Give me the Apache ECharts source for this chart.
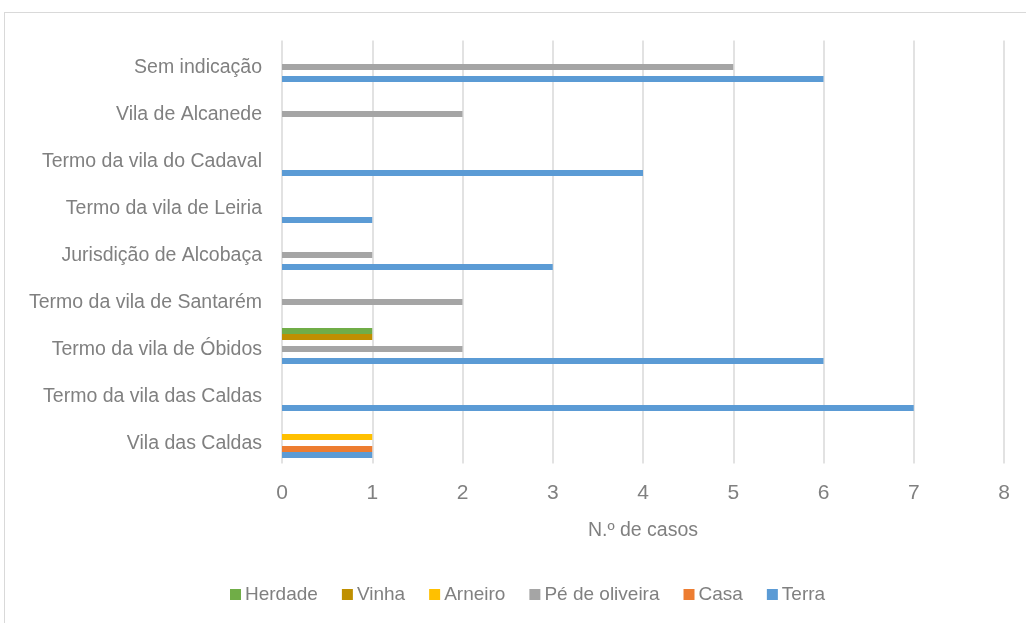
<!DOCTYPE html>
<html>
<head>
<meta charset="utf-8">
<script src="https://cdn.jsdelivr.net/npm/echarts@6/dist/echarts.min.js"></script>
<style>
  html, body { margin: 0; padding: 0; background: #fff; }
  #frame { position: absolute; left: 4px; top: 12px; width: 1030px; height: 620px; border: 1px solid #d9d9d9; box-sizing: border-box; }
  #chart { position: absolute; left: 0; top: 0; width: 1026px; height: 623px; }
</style>
</head>
<body>
<div id="frame"></div>
<div id="chart"></div>
<script>
// Locations, listed bottom to top
const categories = [
  'Vila das Caldas',
  'Termo da vila das Caldas',
  'Termo da vila de Óbidos',
  'Termo da vila de Santarém',
  'Jurisdição de Alcobaça',
  'Termo da vila de Leiria',
  'Termo da vila do Cadaval',
  'Vila de Alcanede',
  'Sem indicação'
];

// Number of cases per property type
const terra       = [1, 7, 6, 0, 3, 1, 4, 0, 6];
const casa        = [1, 0, 0, 0, 0, 0, 0, 0, 0];
const peOliveira  = [0, 0, 2, 2, 1, 0, 0, 2, 5];
const arneiro     = [1, 0, 0, 0, 0, 0, 0, 0, 0];
const vinha       = [0, 0, 1, 0, 0, 0, 0, 0, 0];
const herdade     = [0, 0, 1, 0, 0, 0, 0, 0, 0];

const xTicks = [0, 1, 2, 3, 4, 5, 6, 7, 8];
const axisTitle = 'N.º de casos';

// Listed top-of-group first: ECharts stacks horizontal bar groups from the top down
const seriesDefs = [
  { name: 'Herdade', data: herdade, color: '#70AD47' },
  { name: 'Vinha', data: vinha, color: '#BF8F00' },
  { name: 'Arneiro', data: arneiro, color: '#FFC000' },
  { name: 'Pé de oliveira', data: peOliveira, color: '#A5A5A5' },
  { name: 'Casa', data: casa, color: '#ED7D31' },
  { name: 'Terra', data: terra, color: '#5B9BD5' }
];

const FONT = 'Liberation Sans';
const TEXT = '#808080';

const chart = echarts.init(document.getElementById('chart'), null, { renderer: 'canvas' });
chart.setOption({
  animation: false,
  textStyle: { fontFamily: FONT },
  grid: { left: 282, right: 22, top: 40.5, bottom: 159.5, containLabel: false },
  legend: {
    data: seriesDefs.map(s => s.name),
    bottom: 14,
    left: 225,
    itemWidth: 11,
    itemHeight: 11,
    itemGap: 24,
    icon: 'rect',
    textStyle: { color: TEXT, fontSize: 19, fontFamily: FONT, padding: [0, 0, 0, -1] }
  },
  xAxis: {
    type: 'value',
    min: xTicks[0],
    max: xTicks[xTicks.length - 1],
    interval: 1,
    name: axisTitle,
    nameLocation: 'middle',
    nameGap: 57,
    nameTextStyle: { color: TEXT, fontSize: 19.5, fontFamily: FONT },
    axisLine: { show: false },
    axisTick: { show: false },
    axisLabel: { color: TEXT, fontSize: 21, margin: 19, fontFamily: FONT },
    splitLine: { show: true, lineStyle: { color: '#d9d9d9', width: 1.5 } }
  },
  yAxis: {
    type: 'category',
    data: categories,
    axisLine: { show: false },
    axisTick: { show: false },
    axisLabel: {
      margin: 20,
      formatter: v => '{l|' + v + '}',
      rich: {
        l: { color: TEXT, fontSize: 19.5, fontFamily: FONT, padding: [8, 0, 0, 0] }
      }
    }
  },
  series: seriesDefs.map(s => ({
    name: s.name,
    type: 'bar',
    data: s.data,
    barGap: '0%',
    barCategoryGap: '23%',
    itemStyle: { color: s.color }
  }))
});
</script>
</body>
</html>
